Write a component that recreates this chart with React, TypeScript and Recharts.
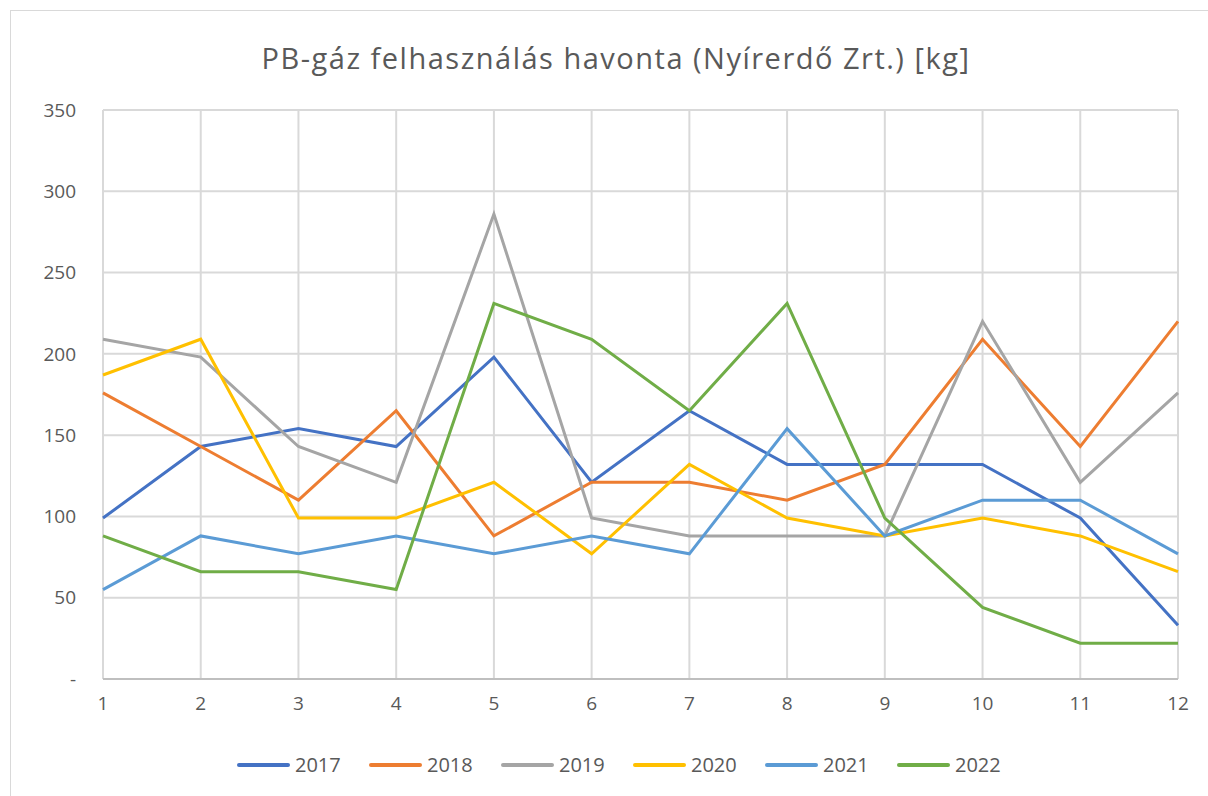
import { LineChart, Line, XAxis, YAxis, CartesianGrid } from 'recharts'

const months = [1, 2, 3, 4, 5, 6, 7, 8, 9, 10, 11, 12]
const years = ['2017', '2018', '2019', '2020', '2021', '2022']
const colors = ['#4472C4', '#ED7D31', '#A5A5A5', '#FFC000', '#5B9BD5', '#70AD47']

const y2017 = [99, 143, 154, 143, 198, 121, 165, 132, 132, 132, 99, 33]
const y2018 = [176, 143, 110, 165, 88, 121, 121, 110, 132, 209, 143, 220]
const y2019 = [209, 198, 143, 121, 286, 99, 88, 88, 88, 220, 121, 176]
const y2020 = [187, 209, 99, 99, 121, 77, 132, 99, 88, 99, 88, 66]
const y2021 = [55, 88, 77, 88, 77, 88, 77, 154, 88, 110, 110, 77]
const y2022 = [88, 66, 66, 55, 231, 209, 165, 231, 99, 44, 22, 22]

const yTicks = [0, 50, 100, 150, 200, 250, 300, 350]

const series = [y2017, y2018, y2019, y2020, y2021, y2022]

const data = months.map((m, i) => {
  const row: Record<string, number> = { month: m }
  years.forEach((y, j) => { row[y] = series[j][i] })
  return row
})

const FONT = '"Open Sans", sans-serif'
const TEXT = '#595959'

export default function App() {
  return (
    <div style={{ position: 'fixed', left: 0, top: 0, width: 1208, height: 796, background: '#fff', overflow: 'hidden', fontFamily: FONT }}>
      <div style={{ position: 'absolute', left: 10, top: 10, width: 1260, height: 840, border: '1px solid #d9d9d9' }} />
      <div style={{ position: 'absolute', left: 0, top: 38, width: 1232, textAlign: 'center', fontSize: 29, letterSpacing: 1.5, color: TEXT }}>
        PB-gáz felhasználás havonta (Nyírerdő Zrt.) [kg]
      </div>
      <div style={{ position: 'absolute', left: 0, top: 0 }}>
        <LineChart width={1208} height={796} data={data} margin={{ top: 110, right: 30, bottom: 77, left: 43 }}>
          <CartesianGrid stroke="#d9d9d9" strokeWidth={2} />
          <XAxis
            dataKey="month"
            type="number"
            domain={[1, 12]}
            ticks={months}
            height={40}
            axisLine={{ stroke: '#bfbfbf', strokeWidth: 2 }}
            tickLine={false}
            tickSize={0}
            tickMargin={18}
            tick={{ fill: TEXT, fontSize: 19, fontFamily: FONT }}
          />
          <YAxis
            type="number"
            domain={[0, 350]}
            ticks={yTicks}
            width={60}
            axisLine={false}
            tickLine={false}
            tickSize={0}
            tickMargin={27}
            tickFormatter={(v: number) => (v === 0 ? '-' : String(v))}
            tick={{ fill: TEXT, fontSize: 19, fontFamily: FONT }}
          />
          {years.map((y, i) => (
            <Line key={y} type="linear" dataKey={y} stroke={colors[i]} strokeWidth={3} dot={false} isAnimationActive={false} />
          ))}
        </LineChart>
      </div>
      <div style={{ position: 'absolute', left: 237, top: 751, display: 'flex' }}>
        {years.map((y, i) => (
          <div key={y} style={{ display: 'flex', alignItems: 'center', width: 132 }}>
            <div style={{ width: 53, height: 4, background: colors[i], borderRadius: 2 }} />
            <span style={{ marginLeft: 5, fontSize: 20, color: TEXT }}>{y}</span>
          </div>
        ))}
      </div>
    </div>
  )
}
